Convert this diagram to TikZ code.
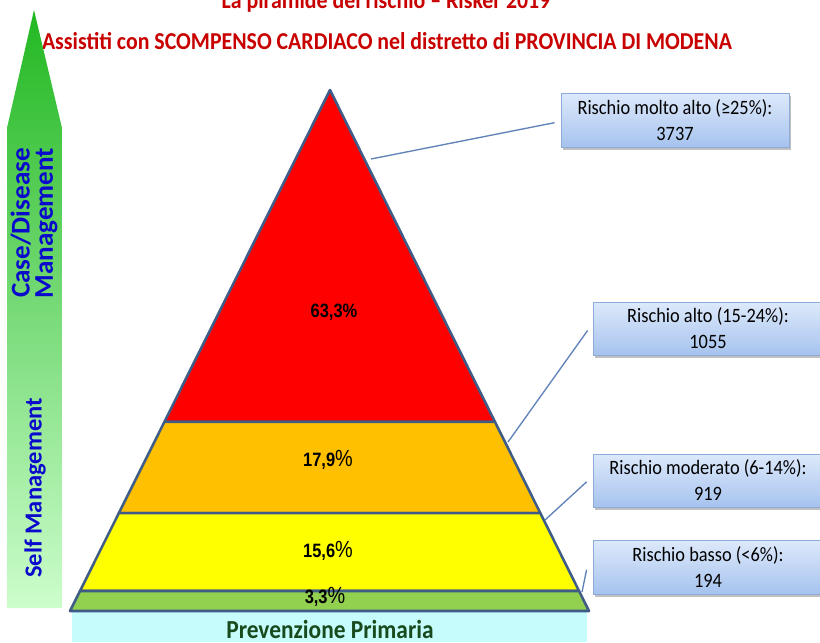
\documentclass[tikz,border=0pt]{standalone}
\usepackage{fontspec}
\setmainfont{Carlito}[FakeStretch=0.9]
\newfontfamily\plainfont{Carlito}
\newfontfamily\numfont{Liberation Sans}[FakeStretch=0.85]
\usetikzlibrary{shadows,calc}
\definecolor{titlered}{HTML}{C80000}
\definecolor{edgeblue}{HTML}{3E5C86}
\definecolor{linkblue}{HTML}{5F82B8}
\definecolor{boxtop}{HTML}{DDE9FB}
\definecolor{boxbot}{HTML}{A6C3EE}
\definecolor{boxedge}{HTML}{8EAAD8}
\definecolor{lvred}{HTML}{FF0000}
\definecolor{lvorange}{HTML}{FFC000}
\definecolor{lvyellow}{HTML}{FFFF00}
\definecolor{lvgreen}{HTML}{92D050}
\definecolor{basecyan}{HTML}{C6FCFC}
\definecolor{basetext}{HTML}{174A1C}
\definecolor{armtop}{HTML}{22B822}
\definecolor{armmid}{HTML}{78DA78}
\definecolor{armbot}{HTML}{CCFDCC}
\definecolor{sideblue}{HTML}{0A0ACC}
\begin{document}
\begin{tikzpicture}[x=0.75pt,y=-0.75pt,
  riskbox/.style={draw=boxedge, line width=0.6pt, top color=boxtop, bottom color=boxbot,
    align=center, inner sep=0pt, font=\fontsize{15.3}{19.5}\selectfont,
    drop shadow={shadow xshift=1.5pt, shadow yshift=-2pt, opacity=0.35, fill=black!70}},
  pct/.style={inner sep=0pt, font=\numfont\bfseries\fontsize{14.5}{16}\selectfont},
  link/.style={draw=linkblue, line width=1pt},
  layer/.style={draw=edgeblue, line width=1.9pt, line join=round},
  sidetext/.style={rotate=90, align=center, text=sideblue, inner sep=0pt},
  titletext/.style={text=titlered, inner sep=0pt, anchor=base}
]
\useasboundingbox (0,0) rectangle (820,642);
\fill[white] (0,0) rectangle (820,642);

% titles
\node[titletext, font=\bfseries\fontsize{18.2}{20}\selectfont] (t1) at (386,9) {La piramide del rischio – Risker 2019};
\node[titletext, font=\bfseries\fontsize{18.2}{20}\selectfont] (t2) at (387,50) {Assistiti con SCOMPENSO CARDIACO nel distretto di PROVINCIA DI MODENA};

% left arrow
\shade[top color=armtop, middle color=armmid, bottom color=armbot]
  (34,10) -- (62,128) -- (62,608) -- (7,608) -- (7,128) -- cycle;
\node[sidetext, font=\plainfont\bfseries\fontsize{20.3}{17.5}\selectfont] (s1) at (34,223) {Case/Disease\\Management};
\node[sidetext, font=\plainfont\bfseries\fontsize{18.4}{20}\selectfont] (s2) at (35,488) {Self Management};

% base band
\fill[basecyan] (72,612) rectangle (587,642);
\node[inner sep=0pt, anchor=base, text=basetext, font=\bfseries\fontsize{19.5}{22}\selectfont] (prev) at (330,638.5) {Prevenzione Primaria};

% pyramid
\coordinate (A) at (330,90);
\coordinate (BL) at (70,611);
\coordinate (BR) at (589,611);
\coordinate (L1) at ($(A)!0.637!(BL)$);
\coordinate (R1) at ($(A)!0.637!(BR)$);
\coordinate (L2) at ($(A)!0.812!(BL)$);
\coordinate (R2) at ($(A)!0.812!(BR)$);
\coordinate (L3) at ($(A)!0.9616!(BL)$);
\coordinate (R3) at ($(A)!0.9616!(BR)$);
\filldraw[layer, fill=lvred] (A) -- (L1) -- (R1) -- cycle;
\filldraw[layer, fill=lvorange] (L1) -- (L2) -- (R2) -- (R1) -- cycle;
\filldraw[layer, fill=lvyellow] (L2) -- (L3) -- (R3) -- (R2) -- cycle;
\filldraw[layer, fill=lvgreen] (L3) -- (BL) -- (BR) -- (R3) -- cycle;

% percentages
\node[pct] (p1) at (334,312) {63,3\%};
\node[pct] (p2) at (328,460) {17,9{\mdseries\fontsize{17.5}{18}\selectfont\%}};
\node[pct] (p3) at (328,551) {15,6{\mdseries\fontsize{17.5}{18}\selectfont\%}};
\node[pct] (p4) at (325,597) {3,3{\mdseries\fontsize{17.5}{18}\selectfont\%}};

% boxes
\node[riskbox, minimum width=171pt, minimum height=40.5pt] (b1) at (675,120) {Rischio molto alto (≥25\%):\\3737};
\node[riskbox, minimum width=172.5pt, minimum height=39.75pt] (b2) at (708,328.5) {Rischio alto (15-24\%):\\1055};
\node[riskbox, minimum width=172.5pt, minimum height=39.75pt] (b3) at (708,480.5) {Rischio moderato (6-14\%):\\919};
\node[riskbox, minimum width=172.5pt, minimum height=40.5pt] (b4) at (708,567) {Rischio basso (<6\%):\\194};

% connectors
\coordinate (e1) at (371,159);
\coordinate (e2) at (508,442);
\coordinate (e3) at (545,520);
\coordinate (e4) at (582,592);
\draw[link] ([xshift=-4.5pt,yshift=-2pt]b1.west) -- (e1);
\draw[link] ([xshift=-3.75pt,yshift=-1.5pt]b2.west) -- (e2);
\draw[link] ([xshift=-4.5pt,yshift=-1pt]b3.west) -- (e3);
\draw[link] ([xshift=-4.5pt,yshift=-2pt]b4.west) -- (e4);
\end{tikzpicture}
\end{document}
